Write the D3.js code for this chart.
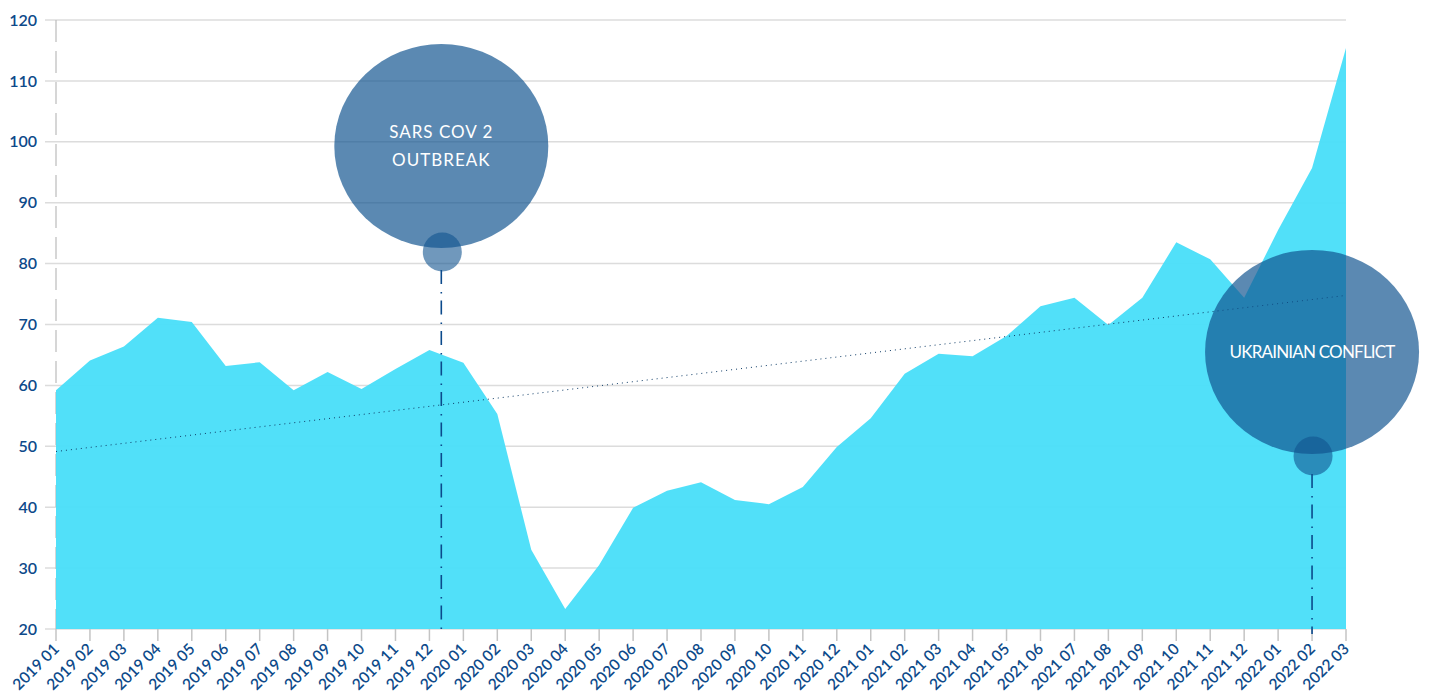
<!DOCTYPE html>
<html>
<head>
<meta charset="utf-8">
<script src="https://cdn.jsdelivr.net/npm/d3@7"></script>
<style>
  body { margin:0; background:#fff; }
  text { font-family: 'Lato', sans-serif; }
  .tick-label { fill:#0d4a8a; font-weight:600; }
</style>
</head>
<body>
<svg id="chart" width="1430" height="700"></svg>
<script>
// monthly values
var months = ["2019 01","2019 02","2019 03","2019 04","2019 05","2019 06","2019 07","2019 08","2019 09","2019 10","2019 11","2019 12",
              "2020 01","2020 02","2020 03","2020 04","2020 05","2020 06","2020 07","2020 08","2020 09","2020 10","2020 11","2020 12",
              "2021 01","2021 02","2021 03","2021 04","2021 05","2021 06","2021 07","2021 08","2021 09","2021 10","2021 11","2021 12",
              "2022 01","2022 02","2022 03"];
var values = [59.2,64.1,66.4,71.1,70.4,63.2,63.8,59.2,62.2,59.4,62.7,65.8,
              63.7,55.3,33.0,23.3,30.5,39.9,42.7,44.1,41.2,40.5,43.3,49.9,
              54.6,61.9,65.2,64.8,68.1,73.0,74.4,69.9,74.4,83.5,80.7,74.4,
              85.5,95.7,115.4];
var yTicks = [20,30,40,50,60,70,80,90,100,110,120];

// annotations: position as month index, bubble value, marker value
var notes = [
  {lines:["SARS COV 2","OUTBREAK"], at:11.35, bubble:99.3, marker:81.9, spacing:"1px"},
  {lines:["UKRAINIAN CONFLICT"], at:37, bubble:65.5, marker:48.4, spacing:"-0.8px"}
];

var svg = d3.select("#chart");
var x = d3.scaleLinear().domain([0, months.length-1]).range([56, 1346]);
var y = d3.scaleLinear().domain([20,120]).range([629, 20]);

// grid + y ticks
svg.append("g").selectAll("line").data(yTicks).enter().append("line")
  .attr("x1", 45).attr("x2", 1346)
  .attr("y1", function(d){ return y(d); }).attr("y2", function(d){ return y(d); })
  .style("stroke", "#dcdcdc").style("stroke-width", 1.5);

svg.append("g").selectAll("text").data(yTicks).enter().append("text")
  .attr("class", "tick-label")
  .attr("x", 37).attr("y", function(d){ return y(d); })
  .attr("dy", "0.35em")
  .style("text-anchor", "end").style("font-size", "16px")
  .text(function(d){ return d; });

// dashed left axis
svg.append("line")
  .attr("x1", 56).attr("x2", 56).attr("y1", 20).attr("y2", 629)
  .style("stroke", "#bbb").style("stroke-width", 1.2)
  .style("stroke-dasharray", "22,9");

// x ticks
svg.append("g").selectAll("line").data(months).enter().append("line")
  .attr("x1", function(d,i){ return x(i); }).attr("x2", function(d,i){ return x(i); })
  .attr("y1", 629).attr("y2", 641)
  .style("stroke", "#c4c4c4").style("stroke-width", 1.5);

svg.append("g").selectAll("text").data(months).enter().append("text")
  .attr("class", "tick-label")
  .attr("transform", function(d,i){ return "translate(" + (x(i)+4) + ",650) rotate(-45)"; })
  .style("text-anchor", "end").style("font-size", "15.5px")
  .text(function(d){ return d; });

// area
var area = d3.area()
  .x(function(d,i){ return x(i); })
  .y0(y(20))
  .y1(function(d){ return y(d); });

svg.append("path").datum(values)
  .attr("d", area)
  .style("fill", "#48def9").style("fill-opacity", 0.95);

// linear trend
var n = values.length, mx = d3.mean(values, function(d,i){ return i; }), my = d3.mean(values);
var sxy = 0, sxx = 0;
values.forEach(function(v,i){ sxy += (i-mx)*(v-my); sxx += (i-mx)*(i-mx); });
var slope = sxy/sxx, icpt = my - slope*mx;
svg.append("line")
  .attr("x1", x(0)).attr("y1", y(icpt))
  .attr("x2", x(n-1)).attr("y2", y(icpt + slope*(n-1)))
  .style("stroke", "#0d3b66").style("stroke-width", 1)
  .style("stroke-dasharray", "1,4");

// annotations
notes.forEach(function(a){
  var cx = x(a.at);
  svg.append("line")
    .attr("x1", cx).attr("x2", cx)
    .attr("y1", y(a.marker) + 18).attr("y2", 634)
    .style("stroke", "#0b4a8c").style("stroke-width", 1.6)
    .style("stroke-dasharray", "14,8,1.5,7");
  svg.append("ellipse")
    .attr("cx", cx).attr("cy", y(a.bubble)).attr("rx", 107).attr("ry", 102)
    .style("fill", "#10538f").style("fill-opacity", 0.685);
  svg.append("circle")
    .attr("cx", cx + 1).attr("cy", y(a.marker)).attr("r", 19.5)
    .style("fill", "#10538f").style("fill-opacity", 0.6);
  var t = svg.append("text")
    .attr("x", cx).attr("y", y(a.bubble) - (a.lines.length-1)*14)
    .style("text-anchor", "middle").style("fill", "#fff")
    .style("font-size", "17px")
    .style("letter-spacing", a.spacing);
  a.lines.forEach(function(l, k){
    t.append("tspan").attr("x", cx).attr("dy", k == 0 ? "0.35em" : "28px").text(l);
  });
});
</script>
</body>
</html>
